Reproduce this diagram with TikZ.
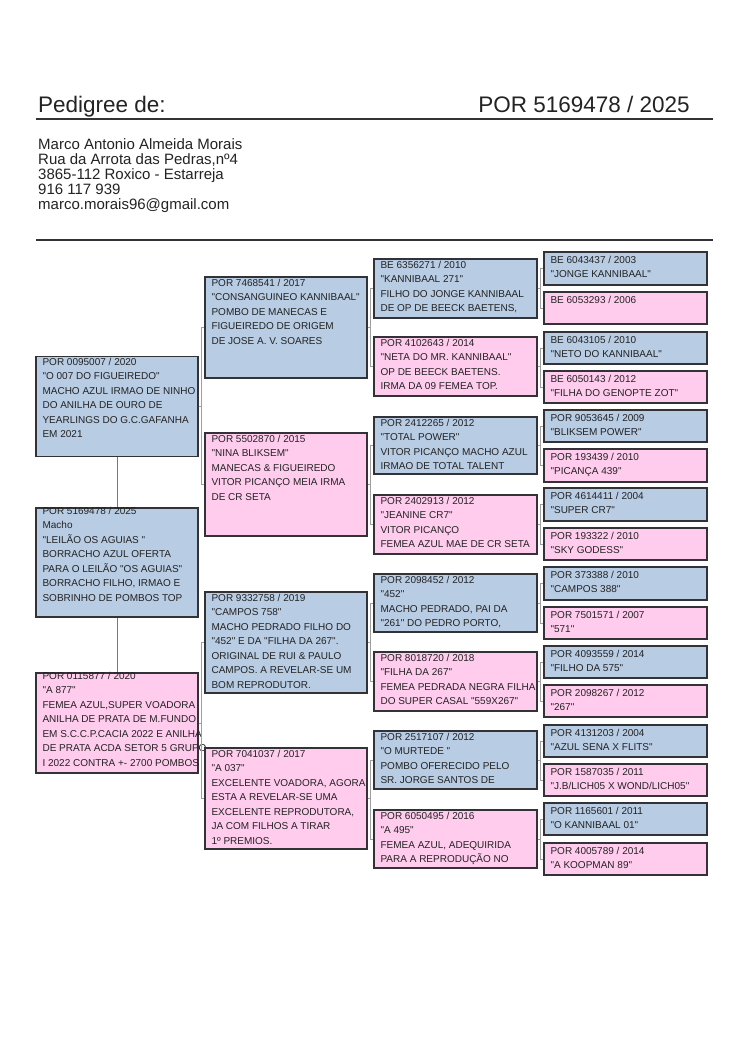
\documentclass[tikz,border=0pt]{standalone}
\usepackage{fontspec}
\setmainfont{Liberation Sans}[Ligatures=TeXOff]
\usetikzlibrary{calc}
\definecolor{cblue}{RGB}{184,204,228}
\definecolor{cpink}{RGB}{255,204,238}
\definecolor{cborder}{RGB}{50,50,55}
\definecolor{ctext}{RGB}{35,35,35}
\newcommand{\plines}[1]{\begin{tabular}[t]{@{}l@{}}#1\end{tabular}}
\tikzset{
  mbox/.style={draw=cborder, line width=1.3pt, rectangle, inner sep=0pt},
  txt/.style={anchor=base west, inner sep=0pt, text=ctext, font=\fontsize{10}{14.5}\selectfont},
  conn/.style={draw=gray!75, line width=0.8pt},
  connv/.style={draw=gray!95!black, line width=0.8pt},
  rule/.style={draw=cborder, line width=1.5pt}
}
% name, color, x1, y1, x2, y2, baseline offset, text
\newcommand{\pbox}[8]{%
  \node[mbox, fill=#2, minimum width={#5-#3}, minimum height={#6-#4}] (#1) at ({(#3+#5)/2},{(#4+#6)/2}) {};
  \node[txt] (#1-t) at ($(#1.north west)+(7,#7)$) {\plines{#8}};
}
\begin{document}
\begin{tikzpicture}[x=1pt,y=-1pt]
\useasboundingbox[fill=white] (0,0) rectangle (750,1061);

% header
\node[anchor=base west, inner sep=0pt, text=ctext, font=\fontsize{22.5}{27}\selectfont] (title) at (38,112) {Pedigree de:};
\node[anchor=base east, inner sep=0pt, text=ctext, font=\fontsize{22.5}{27}\selectfont] (ring) at (690,112) {POR 5169478 / 2025};
\draw[rule] (36,119) -- (713,119);
\node[anchor=base west, inner sep=0pt, text=ctext, font=\fontsize{15}{14.3}\selectfont] (addr) at (38,149.3) {\plines{Marco Antonio Almeida Morais\\Rua da Arrota das Pedras,nº4\\3865-112 Roxico - Estarreja\\916 117 939\\marco.morais96@gmail.com}};
\draw[rule] (36,240) -- (713,240);

% column 1
\pbox{A}{cblue}{36}{356.5}{198}{456.5}{9.5}{POR 0095007 / 2020\\"O 007 DO FIGUEIREDO"\\MACHO AZUL IRMAO DE NINHO\\DO ANILHA DE OURO DE\\YEARLINGS DO G.C.GAFANHA\\EM 2021}
\pbox{R}{cblue}{36}{508}{198}{617}{7}{POR 5169478 / 2025\\Macho\\"LEILÃO OS AGUIAS "\\BORRACHO AZUL OFERTA\\PARA O LEILÃO "OS AGUIAS"\\BORRACHO FILHO, IRMAO E\\SOBRINHO DE POMBOS TOP}
\pbox{Dm}{cpink}{36}{673}{198}{773}{7}{POR 0115877 / 2020\\"A 877"\\FEMEA AZUL,SUPER VOADORA\\ANILHA DE PRATA DE M.FUNDO\\EM S.C.C.P.CACIA 2022 E ANILHA\\DE PRATA ACDA SETOR 5 GRUPO\\I 2022 CONTRA +- 2700 POMBOS}

% column 2
\pbox{B1}{cblue}{205}{277}{367}{378}{10}{POR 7468541 / 2017\\"CONSANGUINEO KANNIBAAL"\\POMBO DE MANECAS E\\FIGUEIREDO DE ORIGEM\\DE JOSE A. V. SOARES}
\pbox{B2}{cpink}{205}{433}{367}{536}{10}{POR 5502870 / 2015\\"NINA BLIKSEM"\\MANECAS \& FIGUEIREDO\\VITOR PICANÇO MEIA IRMA\\DE CR SETA}
\pbox{B3}{cblue}{205}{592}{367}{693}{10}{POR 9332758 / 2019\\"CAMPOS 758"\\MACHO PEDRADO FILHO DO\\"452" E DA "FILHA DA 267".\\ORIGINAL DE RUI \& PAULO\\CAMPOS. A REVELAR-SE UM\\BOM REPRODUTOR.}
\pbox{B4}{cpink}{205}{748}{367}{849}{10}{POR 7041037 / 2017\\"A 037"\\EXCELENTE VOADORA, AGORA\\ESTA A REVELAR-SE UMA\\EXCELENTE REPRODUTORA,\\JA COM FILHOS A TIRAR\\1º PREMIOS.}

% column 3
\pbox{C1}{cblue}{374}{259}{537}{318}{10}{BE 6356271 / 2010\\"KANNIBAAL 271"\\FILHO DO JONGE KANNIBAAL\\DE OP DE BEECK BAETENS,}
\pbox{C2}{cpink}{374}{337}{537}{396}{10}{POR 4102643 / 2014\\"NETA DO MR. KANNIBAAL"\\OP DE BEECK BAETENS.\\IRMA DA 09 FEMEA TOP.}
\pbox{C3}{cblue}{374}{417}{537}{474}{10}{POR 2412265 / 2012\\"TOTAL POWER"\\VITOR PICANÇO MACHO AZUL\\IRMAO DE TOTAL TALENT}
\pbox{C4}{cpink}{374}{495}{537}{554}{10}{POR 2402913 / 2012\\"JEANINE CR7"\\VITOR PICANÇO\\FEMEA AZUL MAE DE CR SETA}
\pbox{C5}{cblue}{374}{574}{537}{632}{10}{POR 2098452 / 2012\\"452"\\MACHO PEDRADO, PAI DA\\"261" DO PEDRO PORTO,}
\pbox{C6}{cpink}{374}{652}{537}{711}{10}{POR 8018720 / 2018\\"FILHA DA 267"\\FEMEA PEDRADA NEGRA FILHA\\DO SUPER CASAL "559X267"}
\pbox{C7}{cblue}{374}{731}{537}{789}{10}{POR 2517107 / 2012\\"O MURTEDE "\\POMBO OFERECIDO PELO\\SR. JORGE SANTOS DE}
\pbox{C8}{cpink}{374}{810}{537}{868}{10}{POR 6050495 / 2016\\"A 495"\\FEMEA AZUL, ADEQUIRIDA\\PARA A REPRODUÇÃO NO}

% column 4
\pbox{D1}{cblue}{544}{252}{707}{285}{12}{BE 6043437 / 2003\\"JONGE KANNIBAAL"}
\pbox{D2}{cpink}{544}{292}{707}{324}{12}{BE 6053293 / 2006}
\pbox{D3}{cblue}{544}{332}{707}{364}{12}{BE 6043105 / 2010\\"NETO DO KANNIBAAL"}
\pbox{D4}{cpink}{544}{371}{707}{403}{12}{BE 6050143 / 2012\\"FILHA DO GENOPTE ZOT"}
\pbox{D5}{cblue}{544}{410}{707}{442}{12}{POR 9053645 / 2009\\"BLIKSEM POWER"}
\pbox{D6}{cpink}{544}{449}{707}{482}{12}{POR 193439 / 2010\\"PICANÇA 439"}
\pbox{D7}{cblue}{544}{488}{707}{521}{12}{POR 4614411 / 2004\\"SUPER CR7"}
\pbox{D8}{cpink}{544}{528}{707}{560}{12}{POR 193322 / 2010\\"SKY GODESS"}
\pbox{D9}{cblue}{544}{567}{707}{600}{12}{POR 373388 / 2010\\"CAMPOS 388"}
\pbox{D10}{cpink}{544}{607}{707}{639}{12}{POR 7501571 / 2007\\"571"}
\pbox{D11}{cblue}{544}{646}{707}{678}{12}{POR 4093559 / 2014\\"FILHO DA 575"}
\pbox{D12}{cpink}{544}{685}{707}{717}{12}{POR 2098267 / 2012\\"267"}
\pbox{D13}{cblue}{544}{725}{707}{757}{12}{POR 4131203 / 2004\\"AZUL SENA X FLITS"}
\pbox{D14}{cpink}{544}{764}{707}{796}{12}{POR 1587035 / 2011\\"J.B/LICH05 X WOND/LICH05"}
\pbox{D15}{cblue}{544}{803}{707}{835}{12}{POR 1165601 / 2011\\"O KANNIBAAL 01"}
\pbox{D16}{cpink}{544}{843}{707}{875}{12}{POR 4005789 / 2014\\"A KOOPMAN 89"}

% connectors column 1
\draw[connv] (A.south) -- (R.north);
\draw[connv] (R.south) -- (Dm.north);

% brackets
\foreach \p/\a/\b in {A/B1/B2, Dm/B3/B4, B1/C1/C2, B2/C3/C4, B3/C5/C6, B4/C7/C8,
  C1/D1/D2, C2/D3/D4, C3/D5/D6, C4/D7/D8, C5/D9/D10, C6/D11/D12, C7/D13/D14, C8/D15/D16}{
  \draw[conn] (\p.east) -| ([xshift=-3pt]\a.west) -- (\a.west);
  \draw[conn] (\p.east) -| ([xshift=-3pt]\b.west) -- (\b.west);
}
\end{tikzpicture}
\end{document}
